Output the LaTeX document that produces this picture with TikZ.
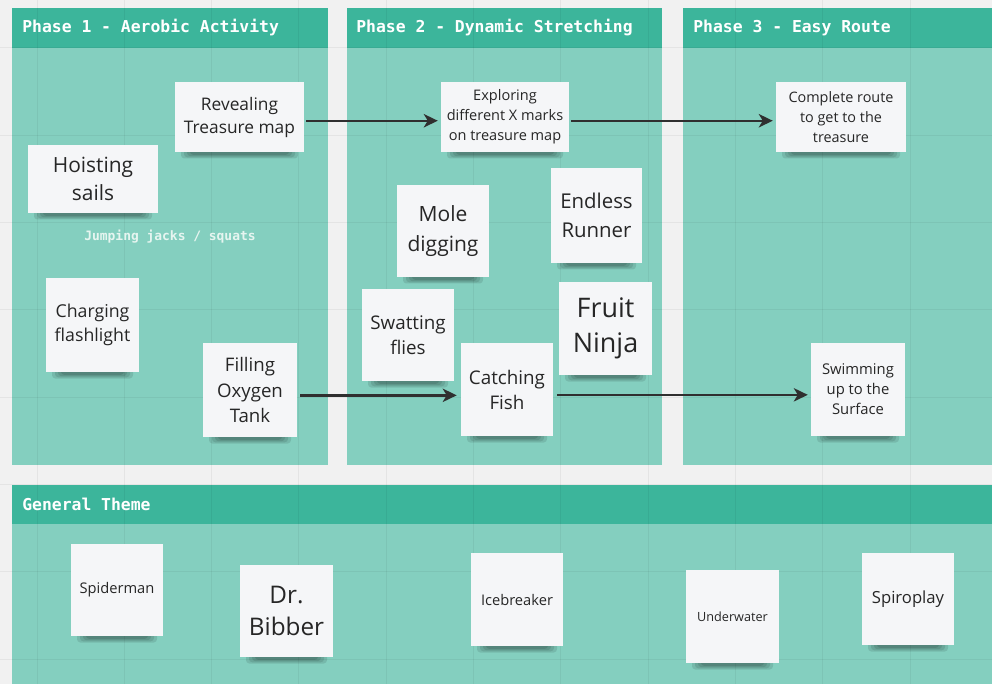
\documentclass[tikz,border=0pt]{standalone}
\usepackage{fontspec}
\setmainfont{Open Sans}
\newfontfamily\boardmono{DejaVu Sans Mono}
\usetikzlibrary{arrows.meta}

\definecolor{canvas}{HTML}{F1F1F1}
\definecolor{headband}{HTML}{3CB59B}
\definecolor{panelbody}{HTML}{84CFBF}
\definecolor{paper}{HTML}{F5F6F8}
\definecolor{ink}{HTML}{262626}
\definecolor{arrowink}{HTML}{2F2F2F}
\definecolor{hint}{HTML}{E6F5F0}

% sticky note: name, centre x, centre y, width, height, font size (pt), leading (pt), text
\newcommand\stickynote[8]{%
  \foreach \k in {0,1,2,3}{%
    \fill[black, opacity=0.1, rounded corners=2.5pt]
      ({#2-#4/2+6+3*\k}, {#3+#5/2-3}) rectangle ({#2+#4/2-6-3*\k}, {#3+#5/2+6.5-1.2*\k});
  }
  \node[sticky, minimum width={#4*0.75pt}, minimum height={#5*0.75pt},
        font=\fontsize{#6}{#7}\selectfont] (#1) at (#2,#3) {#8};
}

\begin{document}
\begin{tikzpicture}[x=0.75pt, y=-0.75pt,
  header/.style={anchor=west, text=white, inner sep=0,
    font=\boardmono\bfseries\fontsize{12.3}{14}\selectfont},
  sticky/.style={fill=paper, text=ink, align=center, inner sep=0},
  link/.style={draw=arrowink, line width=1.8pt,
    -{Stealth[length=10.5pt, width=10pt, inset=3pt]}},
  gridline/.style={draw=black, opacity=0.05, line width=0.75pt}]

\useasboundingbox (0,0) rectangle (992,684);
\fill[canvas] (0,0) rectangle (992,684);

% frames: header bands and bodies
\fill[panelbody] (12,48) rectangle (328,465);
\fill[panelbody] (347,48) rectangle (662,465);
\fill[panelbody] (683,48) rectangle (992,465);
\fill[panelbody] (12,524) rectangle (992,684);
\fill[headband] (12,8) rectangle (328,48);
\fill[headband] (347,8) rectangle (662,48);
\fill[headband] (683,8) rectangle (992,48);
\fill[headband] (12,485) rectangle (992,524);

% board grid
\foreach \gx in {37,124.3,211.6,298.9,386.2,473.5,560.8,648.1,735.4,822.7,910}
  \draw[gridline] (\gx,0) -- (\gx,684);
\foreach \gy in {48,135.3,222.6,309.9,397.2,484.5,571.8,659.1}
  \draw[gridline] (0,\gy) -- (992,\gy);

% frame titles
\node[header] (t1) at (22,28) {Phase 1 - Aerobic Activity};
\node[header] (t2) at (356,28) {Phase 2 - Dynamic Stretching};
\node[header] (t3) at (693,28) {Phase 3 - Easy Route};
\node[header] (t4) at (22,504.5) {General Theme};

\node[text=hint, inner sep=0, font=\boardmono\bfseries\fontsize{9.7}{11}\selectfont]
  (jacks) at (170,236.5) {Jumping jacks / squats};

% phase 1
\stickynote{reveal}{239.5}{117}{129}{70}{13}{17.25}{Revealing\\Treasure map}
\stickynote{hoist}{93}{179}{130}{68}{15.7}{21.4}{Hoisting\\sails}
\stickynote{charge}{92.5}{325}{93}{94}{13.3}{18}{Charging\\flashlight}
\stickynote{oxygen}{250}{390}{94}{94}{14}{19.1}{Filling\\Oxygen\\Tank}

% phase 2
\stickynote{explore}{505}{117}{128}{70}{10.9}{15}{Exploring\\different X marks\\on treasure map}
\stickynote{mole}{443}{231}{92}{92}{15.75}{22.5}{Mole\\digging}
\stickynote{runner}{596.5}{215.5}{91}{95}{15.3}{21.75}{Endless\\Runner}
\stickynote{flies}{408}{335}{92}{92}{14.1}{18.75}{Swatting\\flies}
\stickynote{ninja}{605.5}{328.5}{93}{93}{20.2}{26.25}{Fruit\\Ninja}
\stickynote{fish}{507}{389.5}{92}{93}{14.1}{18.75}{Catching\\Fish}

% phase 3
\stickynote{route}{841}{117}{130}{70}{10.8}{15}{Complete route\\to get to the\\treasure}
\stickynote{surface}{858}{389.5}{94}{93}{11.1}{15}{Swimming\\up to the\\Surface}

% general theme
\stickynote{spider}{117}{590}{92}{92}{11}{14}{Spiderman}
\stickynote{bibber}{286.5}{611}{93}{92}{18.2}{24}{Dr.\\Bibber}
\stickynote{ice}{517}{599.5}{92}{93}{11}{14}{Icebreaker}
\stickynote{under}{732.5}{616.5}{93}{93}{9.5}{12}{Underwater}
\stickynote{spiro}{908}{599}{92}{92}{12.5}{15}{Spiroplay}

% flow between phases
\draw[link, shorten <=1.5pt, shorten >=2.2pt]
  ([yshift=-2.8pt]reveal.east) -- ([yshift=-2.8pt]explore.west);
\draw[link, shorten <=1.5pt, shorten >=2.2pt]
  ([yshift=-2.8pt]explore.east) -- ([yshift=-2.8pt]route.west);
\draw[link, shorten <=2.2pt, shorten >=3pt]
  ([yshift=-4pt]oxygen.east) -- ([yshift=-4pt]oxygen.east -| fish.west);
\draw[link, shorten <=3pt, shorten >=2.2pt]
  ([yshift=-4pt]fish.east) -- ([yshift=-4pt]fish.east -| surface.west);

\end{tikzpicture}
\end{document}
